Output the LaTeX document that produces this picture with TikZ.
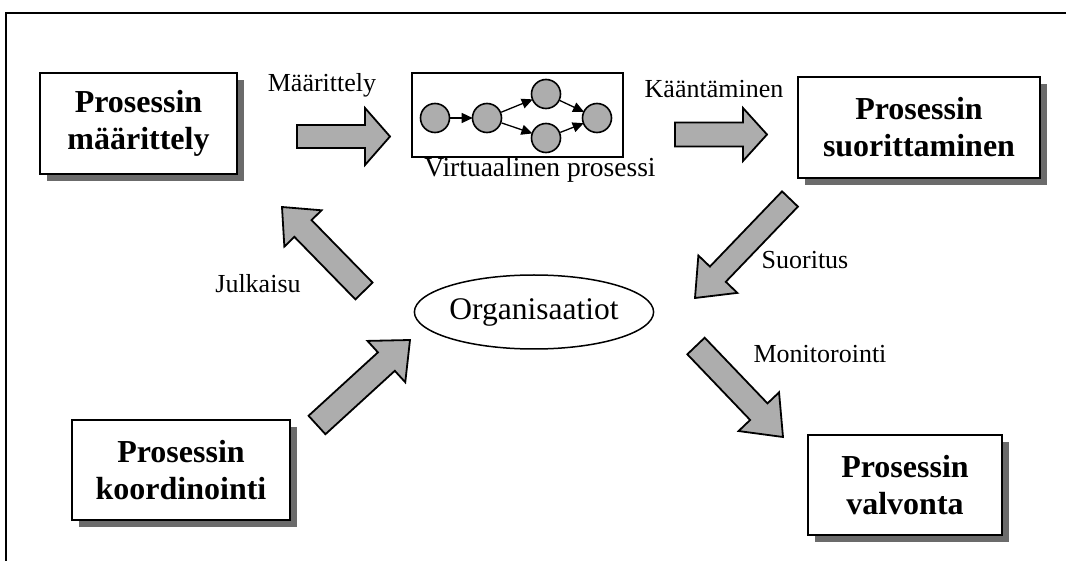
\documentclass[tikz,border=0pt]{standalone}
\usepackage{fontspec}
\setmainfont{Liberation Serif}
\usetikzlibrary{calc,arrows.meta,shapes.geometric,shadows}

\definecolor{dotgray}{gray}{0.68}
\definecolor{shadowgray}{gray}{0.42}

\tikzset{
  x=1pt, y=-1pt,
  procbox/.style={draw, line width=1.7pt, fill=white, inner sep=0pt,
    font=\bfseries\fontsize{32}{37}\selectfont, align=center,
    drop shadow={shadow xshift=7pt, shadow yshift=-7pt, fill=shadowgray, opacity=1}},
  lbl/.style={font=\fontsize{26}{29}\selectfont, inner sep=0pt, anchor=base},
  blockarrow/.style={draw, line width=1.8pt, fill=dotgray, line join=miter},
  vnode/.style={circle, draw, line width=1.6pt, fill=dotgray, minimum size=29pt, inner sep=0pt},
  varrow/.style={line width=1.3pt, -{Triangle[length=11pt,width=10pt]}, shorten >=-1pt},
}

% block arrow from tail #1 to tip #2: half shaft #3, half head #4, head length #5
\newcommand\blockarrow[5]{%
  \coordinate (#1-#2) at ($(#2)!#5!(#1)$);
  \draw[blockarrow] ($(#1)!#3!90:(#2)$) -- ($(#1-#2)!#3!90:(#2)$)
    -- ($(#1-#2)!#4!90:(#2)$) -- (#2) -- ($(#1-#2)!#4!-90:(#2)$)
    -- ($(#1-#2)!#3!-90:(#2)$) -- ($(#1)!#3!-90:(#2)$) -- cycle;}

\begin{document}
\begin{tikzpicture}
\useasboundingbox (0,0) rectangle (1072,561);

% open frame
\draw[line width=1.5pt] (1066,13) -- (6,13) -- (6,561);

% process boxes
\node[procbox, minimum width=197pt, minimum height=101pt] (def) at (138.5,123.5) {Prosessin\\määrittely};
\node[procbox, minimum width=242pt, minimum height=101pt] (exe) at (919,127.5) {Prosessin\\suorittaminen};
\node[procbox, minimum width=218pt, minimum height=100pt] (coo) at (181,470) {Prosessin\\koordinointi};
\node[procbox, minimum width=194pt, minimum height=100pt] (mon) at (905,485) {Prosessin\\valvonta};

% organisations
\node[ellipse, draw, line width=1.5pt, minimum width=232pt, minimum height=74pt, inner sep=0pt,
      font=\fontsize{31.5}{34}\selectfont] (org) at (534,312) {Organisaatiot};

% virtual process
\node[draw, line width=1.5pt, minimum width=211pt, minimum height=84pt, inner sep=0pt] (vp) at (517.5,115) {};
\node[vnode] (v1) at (435,118) {};
\node[vnode] (v2) at (487,118) {};
\node[vnode] (v3) at (546,94) {};
\node[vnode] (v4) at (546,138) {};
\node[vnode] (v5) at (597,118) {};
\draw[varrow] (v1) -- (v2);
\draw[varrow] (v2) -- (v3);
\draw[varrow] (v2) -- (v4);
\draw[varrow] (v3) -- (v5);
\draw[varrow] (v4) -- (v5);
\node[lbl, font=\fontsize{27.5}{30}\selectfont] (vpl) at (540,177) {Virtuaalinen prosessi};

% block arrow ends
\coordinate (a1t) at (297,136.5);  \coordinate (a1h) at (390,136.5);
\coordinate (a2t) at (675,134.5);  \coordinate (a2h) at (767,134.5);
\coordinate (a3t) at (790,199);    \coordinate (a3h) at (695,298);
\coordinate (a4t) at (696,346);    \coordinate (a4h) at (783,437);
\coordinate (a5t) at (364,291);    \coordinate (a5h) at (282,207);
\coordinate (a6t) at (317,425);    \coordinate (a6h) at (410,340);

\blockarrow{a1t}{a1h}{11.5pt}{28.5pt}{25pt}
\blockarrow{a2t}{a2h}{12pt}{26.5pt}{24pt}
\blockarrow{a3t}{a3h}{11pt}{27pt}{33pt}
\blockarrow{a4t}{a4h}{12pt}{28pt}{35pt}
\blockarrow{a5t}{a5h}{12pt}{26pt}{30pt}
\blockarrow{a6t}{a6h}{12.5pt}{28pt}{32pt}

% arrow labels
\node[lbl] (l1) at (322,92) {Määrittely};
\node[lbl] (l2) at (714,98) {Kääntäminen};
\node[lbl] (l3) at (805,269) {Suoritus};
\node[lbl] (l4) at (820,363) {Monitorointi};
\node[lbl] (l5) at (258,293) {Julkaisu};
\end{tikzpicture}
\end{document}
